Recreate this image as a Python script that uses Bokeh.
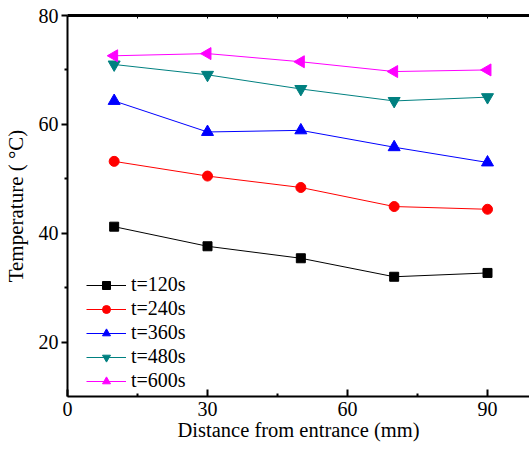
import math
from bokeh.plotting import figure
from bokeh.models import Range1d, LinearAxis, FixedTicker, Legend
from bokeh.embed import file_html
from bokeh.resources import INLINE

distance = [10, 30, 50, 70, 90]
t120 = [41.2, 37.6, 35.4, 32.0, 32.7]
t240 = [53.2, 50.5, 48.4, 44.9, 44.4]
t360 = [64.3, 58.6, 58.9, 55.8, 53.0]
t480 = [71.0, 69.1, 66.5, 64.3, 65.0]
t600 = [72.6, 73.0, 71.5, 69.7, 70.0]
labels = ["t=120s", "t=240s", "t=360s", "t=480s", "t=600s"]
x_ticks = [0, 30, 60, 90]
y_ticks = [20, 40, 60, 80]

FONT = "Liberation Serif"

p = figure(width=529, height=451, output_backend="svg", toolbar_location=None,
           x_range=Range1d(0, 99), y_range=Range1d(10, 80),
           min_border_left=67, min_border_right=0, min_border_top=15,
           min_border_bottom=55, x_axis_location=None, y_axis_location=None)
p.grid.visible = False
p.outline_line_color = None
p.background_fill_color = "white"
p.border_fill_color = "white"

# bottom axis
xb = LinearAxis(ticker=FixedTicker(ticks=x_ticks, minor_ticks=[15, 45, 75]),
                axis_label="Distance from entrance (mm)")
xb.axis_line_width = 2
xb.axis_line_color = "black"
xb.major_tick_line_color = "black"
xb.minor_tick_line_color = "black"
xb.major_tick_in = 7
xb.major_tick_out = 0
xb.minor_tick_in = 3
xb.minor_tick_out = 0
xb.major_tick_line_width = 2
xb.minor_tick_line_width = 2
xb.major_label_text_font = FONT
xb.major_label_text_font_size = "20px"
xb.major_label_text_color = "black"
xb.major_label_standoff = 5
xb.axis_label_text_font = FONT
xb.axis_label_text_font_size = "20.5px"
xb.axis_label_text_font_style = "normal"
xb.axis_label_text_color = "black"
xb.axis_label_standoff = 0
p.add_layout(xb, "below")

# left axis
yl = LinearAxis(ticker=FixedTicker(ticks=y_ticks, minor_ticks=[30, 50, 70]),
                axis_label="Temperature ( \u00b0C)")
yl.axis_line_width = 2
yl.axis_line_color = "black"
yl.major_tick_line_color = "black"
yl.minor_tick_line_color = "black"
yl.major_tick_in = 0
yl.major_tick_out = 6
yl.minor_tick_in = 0
yl.minor_tick_out = 3
yl.major_tick_line_width = 2
yl.minor_tick_line_width = 2
yl.major_label_text_font = FONT
yl.major_label_text_font_size = "20px"
yl.major_label_text_color = "black"
yl.major_label_standoff = 3
yl.axis_label_text_font = FONT
yl.axis_label_text_font_size = "21px"
yl.axis_label_text_font_style = "normal"
yl.axis_label_text_color = "black"
yl.axis_label_standoff = 8
p.add_layout(yl, "left")

# top axis
xt = LinearAxis(ticker=FixedTicker(ticks=[15, 30, 45, 60, 75, 90]))
xt.axis_line_width = 3
xt.axis_line_color = "black"
xt.major_tick_line_color = "black"
xt.major_tick_in = 3
xt.major_tick_out = 0
xt.major_tick_line_width = 1
xt.major_label_text_font_size = "0px"
xt.major_label_text_color = None
xt.minor_tick_line_color = None
p.add_layout(xt, "above")

series = [
    (t120, "black", "square", 9, 0),
    (t240, "#ff0000", "circle", 10, 0),
    (t360, "#0000ff", "triangle", 12, 0),
    (t480, "#008080", "inverted_triangle", 12, 0),
    (t600, "#ff00ff", "triangle", 12, math.pi / 2),
]

items = []
for (vals, color, marker, size, ang), lab in zip(series, labels):
    r1 = p.line(distance, vals, line_color=color, line_width=1)
    r2 = p.scatter(distance, vals, marker=marker, size=size, angle=ang,
                   fill_color=color, line_color=color)
    items.append((lab, [r1, r2]))

legend = Legend(items=items, location=(19, 4))
legend.background_fill_alpha = 0
legend.border_line_color = None
legend.label_text_font = FONT
legend.label_text_font_size = "20px"
legend.label_text_color = "black"
legend.glyph_width = 40
legend.glyph_height = 20
legend.label_height = 20
legend.spacing = 1
legend.padding = 0
legend.margin = 0
legend.label_standoff = 5
p.add_layout(legend, "center")

open("out.html", "w").write(file_html(p, INLINE))
